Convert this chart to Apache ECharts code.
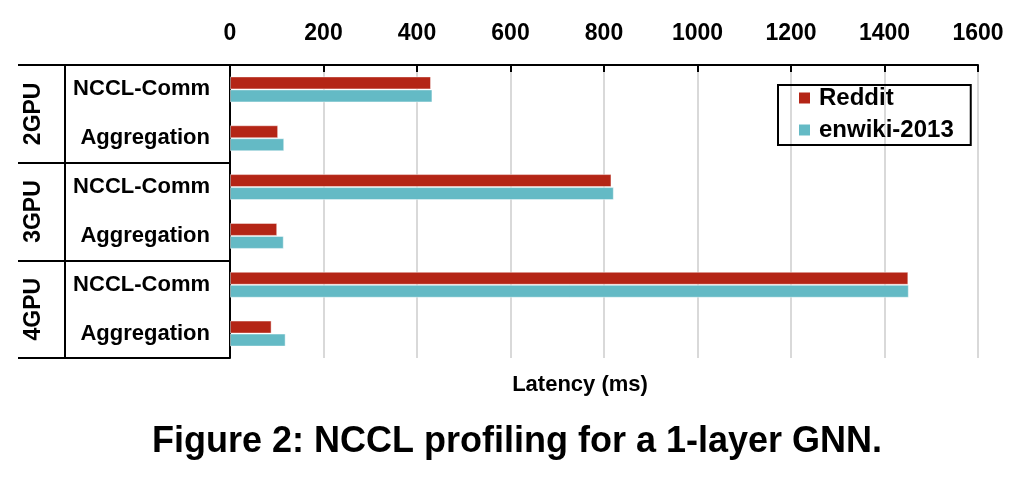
<!DOCTYPE html>
<html>
<head>
<meta charset="utf-8">
<script src="https://cdn.jsdelivr.net/npm/echarts@6/dist/echarts.min.js"></script>
<style>html,body{margin:0;padding:0;background:#fff}#c{width:1034px;height:488px}</style>
</head>
<body>
<div id="c"></div>
<script>
const categories = ['NCCL-Comm', 'Aggregation', 'NCCL-Comm', 'Aggregation', 'NCCL-Comm', 'Aggregation'];
const groups = ['2GPU', '3GPU', '4GPU'];
const reddit = [430, 103, 816, 101, 1451, 89];
const enwiki = [433, 116, 821, 115, 1452, 119];
const xTicks = { min: 0, max: 1600, interval: 200 };

const FONT = '"Liberation Sans", Arial, sans-serif';
const chart = echarts.init(document.getElementById('c'));
chart.setOption({
  animation: false,
  backgroundColor: '#fff',
  title: [
    { text: 'Latency (ms)', left: 575, textAlign: 'center', top: 369,
      textStyle: { fontFamily: FONT, fontWeight: 'bold', fontSize: 22, color: '#000' } },
    { text: 'Figure 2: NCCL profiling for a 1-layer GNN.', left: 512, textAlign: 'center', top: 419,
      textStyle: { fontFamily: FONT, fontWeight: 'bold', fontSize: 36, color: '#000' } }
  ],
  legend: {
    left: 778, top: 85, orient: 'vertical',
    icon: 'rect', itemWidth: 11, itemHeight: 11, itemGap: 8,
    borderColor: '#000', borderWidth: 2, padding: [1, 17, 3, 21],
    itemStyle: { borderWidth: 0 },
    textStyle: { fontFamily: FONT, fontWeight: 'bold', fontSize: 24, color: '#000', padding: [0, 0, 0, 4] },
    data: ['Reddit', 'enwiki-2013']
  },
  grid: { left: 230, right: 56, top: 65, bottom: 130, containLabel: false },
  xAxis: {
    type: 'value', position: 'top', min: xTicks.min, max: xTicks.max, interval: xTicks.interval,
    axisLine: { show: true, lineStyle: { color: '#000', width: 2 } },
    axisTick: { show: true, inside: true, length: 7, lineStyle: { color: '#000', width: 2 } },
    axisLabel: { margin: 20, fontFamily: FONT, fontWeight: 'bold', fontSize: 23, color: '#000',
      formatter: function (v) { return String(v); } },
    splitLine: { show: true, lineStyle: { color: '#d9d9d9', width: 2 } }
  },
  yAxis: [
    {
      type: 'category', inverse: true, data: categories, position: 'left',
      axisLine: { show: true, onZero: false, lineStyle: { color: '#000', width: 2 } },
      axisTick: { show: false },
      axisLabel: { margin: 20, fontFamily: FONT, fontWeight: 'bold', fontSize: 22, color: '#000', interval: 0 }
    },
    {
      type: 'category', inverse: true, data: groups, position: 'left', offset: 0,
      axisLine: { show: false },
      axisTick: { show: true, length: 212, lineStyle: { color: '#000', width: 2 } },
      axisLabel: { show: false }
    },
    {
      type: 'category', inverse: true, data: groups, position: 'left', offset: 165,
      axisLine: { show: true, onZero: false, lineStyle: { color: '#000', width: 2 } },
      axisTick: { show: false },
      axisLabel: { show: true, rotate: 90, margin: 31, align: 'center', verticalAlign: 'middle',
        fontFamily: FONT, fontWeight: 'bold', fontSize: 23, color: '#000' }
    }
  ],
  series: [
    { name: 'Reddit', type: 'bar', yAxisIndex: 0, data: reddit, barWidth: 13, barGap: '0%',
      itemStyle: { color: '#B42516', borderColor: 'rgba(255,255,255,0.45)', borderWidth: 1 } },
    { name: 'enwiki-2013', type: 'bar', yAxisIndex: 0, data: enwiki, barWidth: 13, barGap: '0%',
      itemStyle: { color: '#64BAC5', borderColor: 'rgba(255,255,255,0.45)', borderWidth: 1 } }
  ]
});
</script>
</body>
</html>
